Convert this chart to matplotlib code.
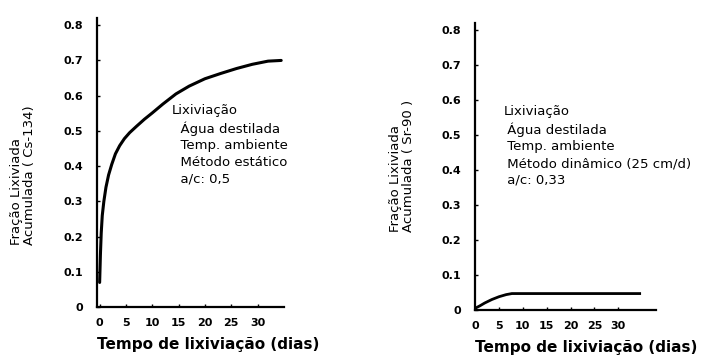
import matplotlib
matplotlib.use("Agg")
import matplotlib.pyplot as plt

# Cs-134, static method
cs_days = [0, 0.15, 0.3, 0.5, 0.8, 1.2, 1.7, 2.3, 3.0, 3.8, 4.7, 5.7, 7, 8.5, 10, 12,
           14.5, 17, 20, 23, 26, 29, 32, 34.5]
cs_frac = [0.07, 0.15, 0.21, 0.26, 0.30, 0.34, 0.375, 0.405, 0.435, 0.458, 0.478, 0.495,
           0.513, 0.533, 0.551, 0.576, 0.605, 0.627, 0.648, 0.663, 0.677, 0.689, 0.698, 0.70]

# Sr-90, dynamic method
sr_days = [0, 1, 2, 3.5, 5, 6.5, 7.7, 34.5]
sr_frac = [0.005, 0.012, 0.02, 0.03, 0.038, 0.044, 0.047, 0.047]

y_ticks = [0, 0.1, 0.2, 0.3, 0.4, 0.5, 0.6, 0.7, 0.8]
y_tick_labels = ["0", "0.1", "0.2", "0.3", "0.4", "0.5", "0.6", "0.7", "0.8"]
x_ticks = [0, 5, 10, 15, 20, 25, 30]

x_label = "Tempo de lixiviação (dias)"
cs_ylabel = "Fração Lixiviada\nAcumulada ( Cs-134)"
sr_ylabel = "Fração Lixiviada\nAcumulada ( Sr-90 )"
cs_note = "Lixiviação\n  Água destilada\n  Temp. ambiente\n  Método estático\n  a/c: 0,5"
sr_note = "Lixiviação\n Água destilada\n Temp. ambiente\n Método dinâmico (25 cm/d)\n a/c: 0,33"


def style_axis(ax, xmin, xmax, ylabel, ylabel_xy, note, note_xy):
    ax.set_xlim(xmin, xmax)
    ax.set_ylim(0, 0.82)
    for side in ["top", "right"]:
        ax.spines[side].set_visible(False)
    for side in ["left", "bottom"]:
        ax.spines[side].set_linewidth(1.6)
        ax.spines[side].set_color("black")
    ax.set_yticks(y_ticks)
    ax.set_yticklabels(y_tick_labels)
    ax.set_xticks(x_ticks)
    ax.tick_params(axis="y", direction="in", length=2, width=1, pad=10, labelsize=8)
    ax.tick_params(axis="x", direction="in", length=2, width=1, pad=8, labelsize=8)
    for lbl in ax.get_xticklabels() + ax.get_yticklabels():
        lbl.set_fontweight("bold")
    ax.text(ylabel_xy[0], ylabel_xy[1], ylabel, transform=ax.transAxes, rotation=90,
            ha="center", va="bottom", multialignment="left", fontsize=9.5, linespacing=0.95)
    ax.text(0.0, -0.105, x_label, transform=ax.transAxes, ha="left", va="top",
            fontsize=11, fontweight="bold")
    ax.text(note_xy[0], note_xy[1], note, transform=ax.transAxes, ha="left", va="top",
            fontsize=9.5, linespacing=1.36)


fig = plt.figure(figsize=(7.05, 3.63), dpi=100)
ax1 = fig.add_axes([0.1376, 0.154, 0.265, 0.796])
ax2 = fig.add_axes([0.674, 0.146, 0.257, 0.79])

ax1.plot(cs_days, cs_frac, color="black", linewidth=2.2, solid_capstyle="round")
style_axis(ax1, -0.5, 35, cs_ylabel, (-0.396, 0.215), cs_note, (0.401, 0.702))

ax2.plot(sr_days, sr_frac, color="black", linewidth=2.0)
style_axis(ax2, 0, 38, sr_ylabel, (-0.403, 0.272), sr_note, (0.155, 0.714))

fig.savefig("out.png", dpi=100)
